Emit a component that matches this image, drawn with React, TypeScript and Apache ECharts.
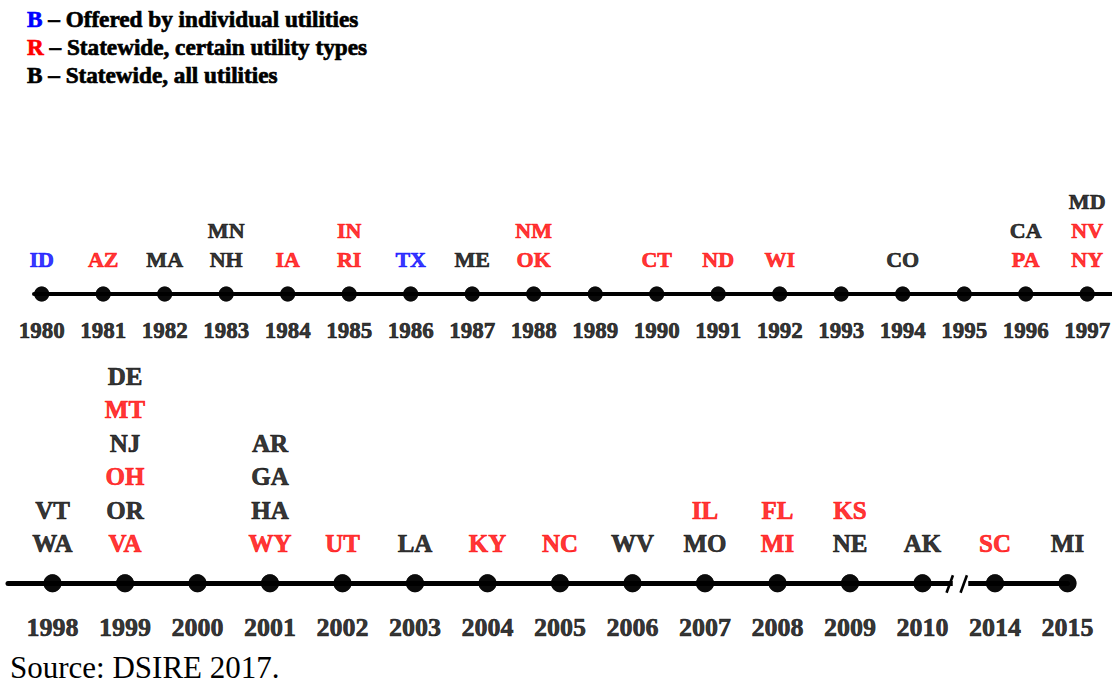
import React, { useEffect, useRef } from "react";
import * as echarts from "echarts";

// ---------- data ----------
// kinds: u = offered by individual utilities (blue), c = statewide, certain utility types (red), a = statewide, all utilities (black)
const topYears = ["1980", "1981", "1982", "1983", "1984", "1985", "1986", "1987", "1988", "1989", "1990", "1991", "1992", "1993", "1994", "1995", "1996", "1997"];
const topStates: [string, string][][] = [
  [["ID", "u"]],
  [["AZ", "c"]],
  [["MA", "a"]],
  [["MN", "a"], ["NH", "a"]],
  [["IA", "c"]],
  [["IN", "c"], ["RI", "c"]],
  [["TX", "u"]],
  [["ME", "a"]],
  [["NM", "c"], ["OK", "c"]],
  [],
  [["CT", "c"]],
  [["ND", "c"]],
  [["WI", "c"]],
  [],
  [["CO", "a"]],
  [],
  [["CA", "a"], ["PA", "c"]],
  [["MD", "a"], ["NV", "c"], ["NY", "c"]],
];

const bottomYears = ["1998", "1999", "2000", "2001", "2002", "2003", "2004", "2005", "2006", "2007", "2008", "2009", "2010", "2014", "2015"];
const bottomStates: [string, string][][] = [
  [["VT", "a"], ["WA", "a"]],
  [["DE", "a"], ["MT", "c"], ["NJ", "a"], ["OH", "c"], ["OR", "a"], ["VA", "c"]],
  [],
  [["AR", "a"], ["GA", "a"], ["HA", "a"], ["WY", "c"]],
  [["UT", "c"]],
  [["LA", "a"]],
  [["KY", "c"]],
  [["NC", "c"]],
  [["WV", "a"]],
  [["IL", "c"], ["MO", "a"]],
  [["FL", "c"], ["MI", "c"]],
  [["KS", "c"], ["NE", "a"]],
  [["AK", "a"]],
  [["SC", "c"]],
  [["MI", "a"]],
];
const breakAfterIndex = 12; // axis break between 2010 and 2014

const legendItems: [string, string, string][] = [
  ["u", "B", "Offered by individual utilities"],
  ["c", "R", "Statewide, certain utility types"],
  ["a", "B", "Statewide, all utilities"],
];
const sourceText = "Source: DSIRE 2017.";

// ---------- styles / layout ----------
const FONT = "'Liberation Serif', serif";
const KIND_COLOR: Record<string, string> = { u: "#0000FF", c: "#FF0000", a: "#000000" };
const BOLDEN = 0.7;

const TOP = { lineLeft: 34, lineRight: 1112, firstX: 41.7, step: 61.5, lineY: 294, dot: 15, lineW: 4, stateFs: 22, stateLh: 29, stateDist: 12.5, yearFs: 23, yearLh: 24, yearDist: 16.5 };
const BOT = { lineLeft: 8, firstX: 52.5, step: 72.5, lineY: 583.3, dot: 18, lineW: 5, stateFs: 25, stateLh: 33.5, stateDist: 14, yearFs: 26, yearLh: 26, yearDist: 22 };

function richFor(fs: number, lh: number) {
  const r: Record<string, any> = {};
  Object.keys(KIND_COLOR).forEach((k) => {
    r[k] = {
      color: KIND_COLOR[k],
      fontFamily: FONT,
      fontWeight: "bold",
      fontSize: fs,
      lineHeight: lh,
      textBorderColor: KIND_COLOR[k],
      textBorderWidth: BOLDEN,
    };
  });
  return r;
}

function buildRow(g: number, years: string[], states: [string, string][][], L: any, lastX: number) {
  const grid = {
    left: L.lineLeft,
    width: lastX - L.lineLeft,
    top: L.lineY - 150,
    height: 150,
  };
  const min = (L.lineLeft - L.firstX) / L.step;
  const max = (lastX - L.firstX) / L.step;
  const xAxis = {
    gridIndex: g,
    type: "value",
    min,
    max,
    axisLine: { show: true, onZero: true, lineStyle: { color: "#000", width: L.lineW } },
    axisTick: { show: false },
    axisLabel: { show: false },
    splitLine: { show: false },
  };
  const yAxis = { gridIndex: g, type: "value", min: 0, max: 1, show: false, splitLine: { show: false } };
  const pts = years.map((_, i) => [i, 0]);
  const common = {
    type: "scatter",
    xAxisIndex: g,
    yAxisIndex: g,
    symbol: "circle",
    symbolSize: L.dot,
    itemStyle: { color: "#000" },
    data: pts,
    clip: false,
    silent: true,
    z: 5,
  };
  const series = [
    {
      ...common,
      label: {
        show: true,
        position: "top",
        distance: L.stateDist,
        lineHeight: L.stateLh,
        fontFamily: FONT,
        fontWeight: "bold",
        fontSize: L.stateFs,
        formatter: (p: any) => states[p.dataIndex].map(([s, k]) => `{${k}|${s}}`).join("\n"),
        rich: richFor(L.stateFs, L.stateLh),
      },
    },
    {
      ...common,
      label: {
        show: true,
        position: "bottom",
        distance: L.yearDist,
        lineHeight: L.yearLh,
        color: "#000",
        fontFamily: FONT,
        fontWeight: "bold",
        fontSize: L.yearFs,
        textBorderColor: "#000",
        textBorderWidth: BOLDEN,
        formatter: (p: any) => years[p.dataIndex],
      },
    },
  ];
  return { grid, xAxis, yAxis, series };
}

export default function App() {
  const ref = useRef<HTMLDivElement>(null);
  useEffect(() => {
    if (!ref.current) return;
    const chart = echarts.init(ref.current, null, { renderer: "svg" });

    const top = buildRow(0, topYears, topStates, TOP, TOP.lineRight);
    const bottomLast = BOT.firstX + (bottomYears.length - 1) * BOT.step;
    const bot = buildRow(1, bottomYears, bottomStates, BOT, bottomLast);

    // break marks between 2010 and 2014
    const mid = BOT.firstX + (breakAfterIndex + 0.5) * BOT.step;
    const y = BOT.lineY;
    const slash = (cx: number) => ({
      type: "line",
      z: 10,
      silent: true,
      shape: { x1: cx - 3.2, y1: y + 9.5, x2: cx + 3.2, y2: y - 8 },
      style: { stroke: "#000", lineWidth: 2.6 },
    });
    const graphic = [
      {
        type: "rect",
        z: 9,
        silent: true,
        shape: { x: mid - 6, y: y - 5, width: 15.5, height: 10 },
        style: { fill: "#fff" },
      },
      slash(mid - 9),
      slash(mid + 5),
    ];

    const legendText = legendItems.map(([k, letter, txt]) => `{${k}|${letter}} – ${txt}`).join("\n");
    const legendRich = richFor(23.2, 28);

    chart.setOption({
      animation: false,
      backgroundColor: "#fff",
      title: [
        {
          text: legendText,
          left: 27,
          top: 5,
          padding: 0,
          textStyle: {
            fontFamily: FONT,
            fontWeight: "bold",
            fontSize: 23.2,
            lineHeight: 28,
            color: "#000",
            textBorderColor: "#000",
            textBorderWidth: BOLDEN,
            rich: legendRich,
          },
        },
        {
          text: sourceText,
          left: 10,
          top: 650,
          padding: 0,
          textStyle: { fontFamily: FONT, fontWeight: "normal", fontSize: 31, lineHeight: 35, color: "#000" },
        },
      ],
      grid: [top.grid, bot.grid],
      xAxis: [top.xAxis, bot.xAxis],
      yAxis: [top.yAxis, bot.yAxis],
      series: [...top.series, ...bot.series],
      graphic,
    });
    return () => chart.dispose();
  }, []);
  return <div ref={ref} style={{ position: "absolute", left: 0, top: 0, width: 1112, height: 685 }} />;
}
